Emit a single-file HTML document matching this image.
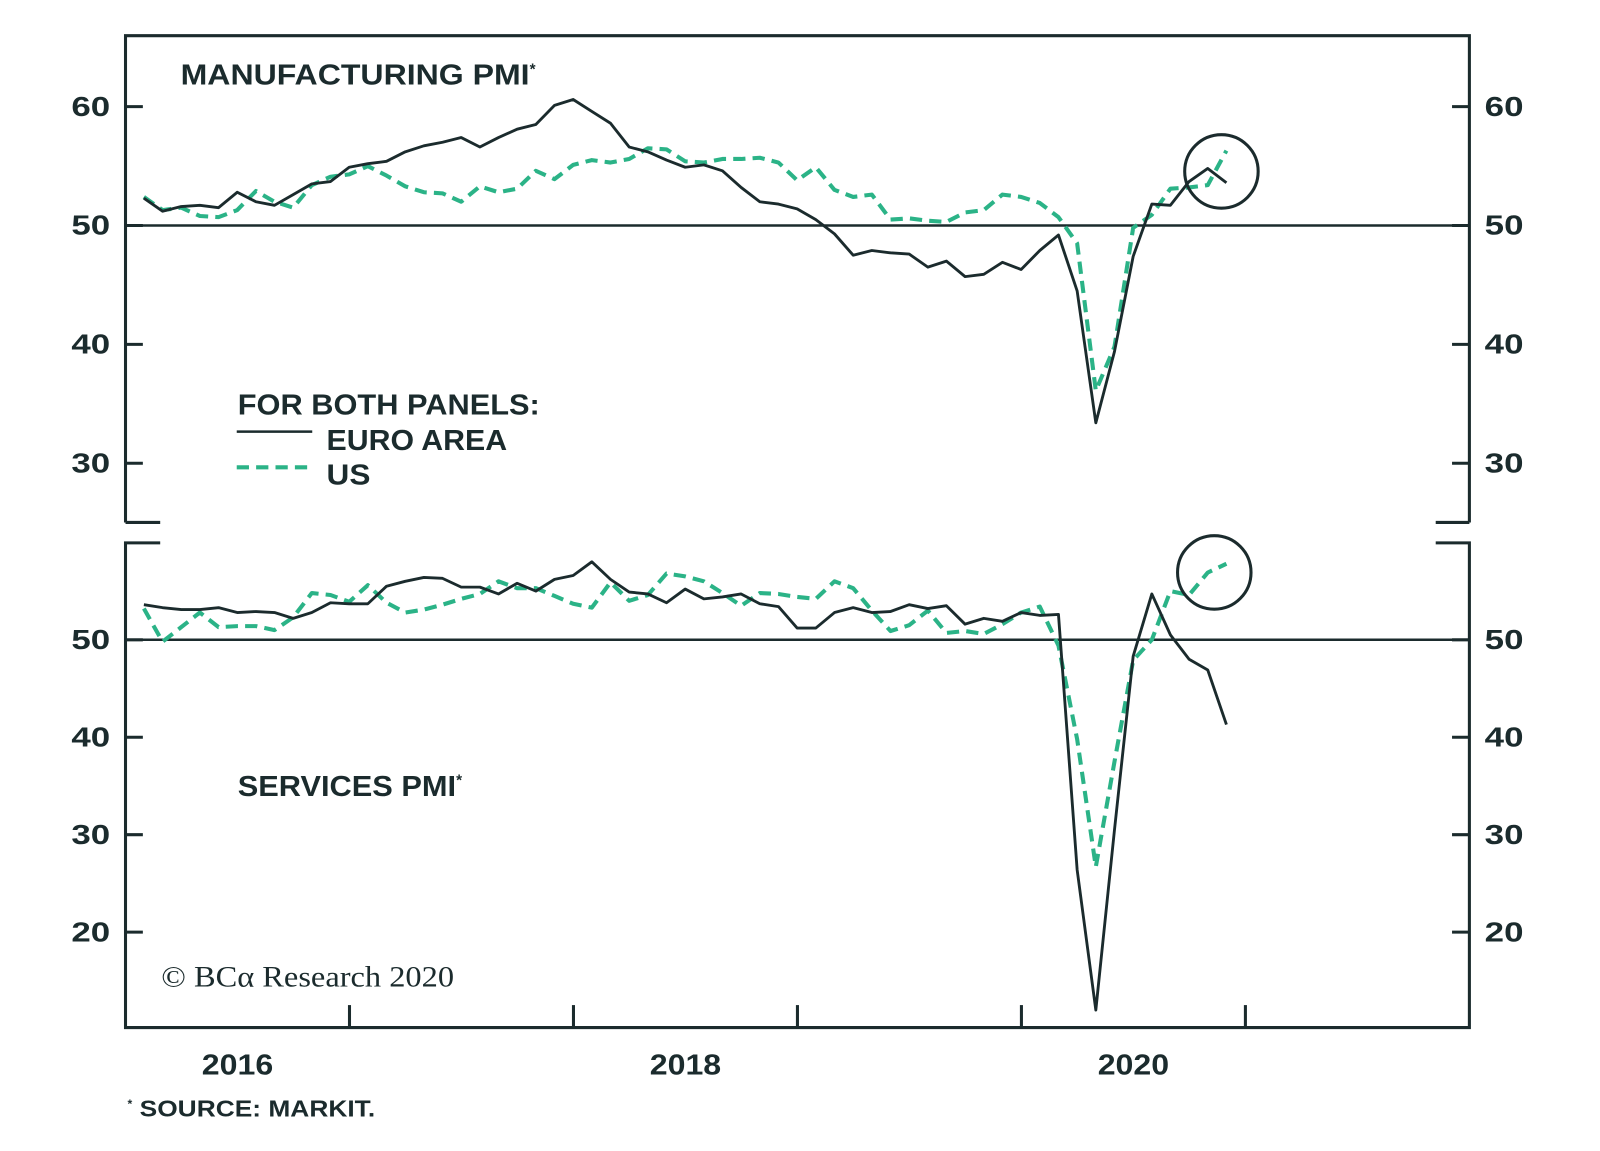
<!DOCTYPE html>
<html><head><meta charset="utf-8"><style>
html,body{margin:0;padding:0;background:#fff;}
svg{display:block;}
text{font-family:"Liberation Sans",sans-serif;fill:#1b2b2d;font-weight:bold;}
</style></head><body>
<svg id="chart" width="1600" height="1151" viewBox="0 0 1568 1128" preserveAspectRatio="none" xmlns="http://www.w3.org/2000/svg">
<g id="frame" stroke="#1b2b2d" stroke-width="3" fill="none">
  <path d="M123,512 L123,35 L1440,35 L1440,512"/>
  <path d="M123,512 L157,512 M1407,512 L1440,512"/>
  <path d="M157,532 L123,532 L123,1007 L1440,1007 L1440,532 L1407,532"/>
</g>
<text x="177" y="83" font-size="28"><tspan textLength="342" lengthAdjust="spacingAndGlyphs">MANUFACTURING PMI</tspan><tspan font-size="15" dy="-10">*</tspan></text>
<text x="233" y="780" font-size="28"><tspan textLength="214" lengthAdjust="spacingAndGlyphs">SERVICES PMI</tspan><tspan font-size="15" dy="-10">*</tspan></text>
<g>
  <text x="233" y="406" font-size="28" textLength="296" lengthAdjust="spacingAndGlyphs">FOR BOTH PANELS:</text>
  <line x1="232" y1="423" x2="306" y2="423" stroke="#1b2b2d" stroke-width="2.5"/>
  <text x="320" y="441" font-size="28" textLength="177" lengthAdjust="spacingAndGlyphs">EURO AREA</text>
  <line x1="232" y1="458" x2="302" y2="458" stroke="#2bb387" stroke-width="4" stroke-dasharray="12,7"/>
  <text x="320" y="475" font-size="28" textLength="43" lengthAdjust="spacingAndGlyphs">US</text>
</g>
<text x="158" y="967" font-size="29" textLength="287" lengthAdjust="spacingAndGlyphs" style="font-family:'Liberation Serif',serif;font-weight:normal">© BCα Research 2020</text>
<text x="125" y="1094" font-size="23"><tspan font-size="12" dy="-8">*</tspan><tspan dy="8" textLength="238" lengthAdjust="spacingAndGlyphs"> SOURCE: MARKIT.</tspan></text>
<g id="axes"></g>
<g id="marks"></g>
<circle cx="1197" cy="168" r="36" fill="none" stroke="#1b2b2d" stroke-width="3"/>
<circle cx="1190" cy="561" r="36" fill="none" stroke="#1b2b2d" stroke-width="3"/>
</svg>
<script>
const years = ["2016","2018","2020"];
const yearTicks = [2016,2017,2018,2019,2020,2021];
const mfgTicks = [60,50,40,30];
const svcTicks = [50,40,30,20];
const mfgEuro = [52.3,51.2,51.6,51.7,51.5,52.8,52.0,51.7,52.6,53.5,53.7,54.9,
55.2,55.4,56.2,56.7,57.0,57.4,56.6,57.4,58.1,58.5,60.1,60.6,
59.6,58.6,56.6,56.2,55.5,54.9,55.1,54.6,53.2,52.0,51.8,51.4,
50.5,49.3,47.5,47.9,47.7,47.6,46.5,47.0,45.7,45.9,46.9,46.3,
47.9,49.2,44.5,33.4,39.4,47.4,51.8,51.7,53.7,54.8,53.6];
const mfgUS = [52.4,51.3,51.5,50.8,50.7,51.3,52.9,52.0,51.5,53.4,54.1,54.3,
55.0,54.2,53.3,52.8,52.7,52.0,53.3,52.8,53.1,54.6,53.9,55.1,
55.5,55.3,55.6,56.5,56.4,55.4,55.3,55.6,55.6,55.7,55.3,53.8,
54.9,53.0,52.4,52.6,50.5,50.6,50.4,50.3,51.1,51.3,52.6,52.4,
51.9,50.7,48.5,36.1,39.8,49.8,50.9,53.1,53.2,53.4,56.3];
const svcEuro = [53.6,53.3,53.1,53.1,53.3,52.8,52.9,52.8,52.2,52.8,53.8,53.7,
53.7,55.5,56.0,56.4,56.3,55.4,55.4,54.7,55.8,55.0,56.2,56.6,
58.0,56.2,54.9,54.7,53.8,55.2,54.2,54.4,54.7,53.7,53.4,51.2,
51.2,52.8,53.3,52.8,52.9,53.6,53.2,53.5,51.6,52.2,51.9,52.8,
52.5,52.6,26.4,12.0,30.5,48.3,54.7,50.5,48.0,46.9,41.3];
const svcUS = [53.2,49.8,51.3,52.8,51.3,51.4,51.4,51.0,52.3,54.8,54.6,53.9,
55.6,53.8,52.8,53.1,53.6,54.2,54.7,56.0,55.3,55.3,54.5,53.7,
53.3,55.9,54.0,54.6,56.8,56.5,56.0,54.8,53.5,54.8,54.7,54.4,
54.2,56.0,55.3,53.0,50.9,51.5,53.0,50.7,50.9,50.6,51.6,52.8,
53.4,49.4,39.8,26.7,37.5,47.9,50.0,55.0,54.6,56.9,57.8];

const NS="http://www.w3.org/2000/svg";
const xLeft=123, yearW=219.5;
function xMonth(i){ return 141 + i*yearW/12; }
function xYear(y){ return xLeft + (y-2016)*yearW; }
function yMfg(v){ return 221 - (v-50)*11.65; }
function ySvc(v){ return 627 - (v-50)*9.55; }
function mk(tag, attrs, parent){ const e=document.createElementNS(NS,tag); for(const k in attrs) e.setAttribute(k,attrs[k]); parent.appendChild(e); return e; }
const axes=document.getElementById('axes'), marks=document.getElementById('marks');

function yLabel(v,x,y,name){
  const l=mk('text',{x:x,y:y+9,'font-size':27,'text-anchor':'middle',textLength:38,lengthAdjust:'spacingAndGlyphs'},axes); l.textContent=v;
  
  
}
mfgTicks.forEach(v=>{
  const y=yMfg(v);
  let t=mk('line',{x1:123,x2:140,y1:y,y2:y,stroke:'#1b2b2d','stroke-width':3},axes);
  
  
  t=mk('line',{x1:1423,x2:1440,y1:y,y2:y,stroke:'#1b2b2d','stroke-width':3},axes);
  
  
  yLabel(v,89,y,'mfg-y-label-left');
  yLabel(v,1474,y,'mfg-y-label-right');
});
svcTicks.forEach(v=>{
  const y=ySvc(v);
  let t=mk('line',{x1:123,x2:140,y1:y,y2:y,stroke:'#1b2b2d','stroke-width':3},axes);
  
  
  t=mk('line',{x1:1423,x2:1440,y1:y,y2:y,stroke:'#1b2b2d','stroke-width':3},axes);
  
  
  yLabel(v,89,y,'svc-y-label-left');
  yLabel(v,1474,y,'svc-y-label-right');
});
yearTicks.forEach(yr=>{
  const x=xYear(yr);
  if(x<130 || x>1430) return;
  const t=mk('line',{x1:x,x2:x,y1:985,y2:1007,stroke:'#1b2b2d','stroke-width':3},axes);
  
  
});
years.forEach(yr=>{
  const x=xYear(+yr)+yearW/2;
  const l=mk('text',{x:x,y:1053,'font-size':28,'text-anchor':'middle',textLength:70,lengthAdjust:'spacingAndGlyphs'},axes); l.textContent=yr;
  
  
});
let r=mk('line',{x1:123,x2:1440,y1:yMfg(50),y2:yMfg(50),stroke:'#1b2b2d','stroke-width':2.5},axes);


r=mk('line',{x1:123,x2:1440,y1:ySvc(50),y2:ySvc(50),stroke:'#1b2b2d','stroke-width':2.5},axes);



function series(arr, yf, dashed, name){
  const d=arr.map((v,i)=>(i?'L':'M')+xMonth(i).toFixed(1)+','+yf(v).toFixed(1)).join(' ');
  const p=mk('path',{d:d,fill:'none',stroke:dashed?'#2bb387':'#1b2b2d','stroke-width':dashed?4:2.8,'stroke-linejoin':'round'},marks);
  if(dashed) p.setAttribute('stroke-dasharray','12,7');
  
  
}
series(mfgUS,yMfg,true,'mfg-us-line');
series(mfgEuro,yMfg,false,'mfg-euro-line');
series(svcUS,ySvc,true,'svc-us-line');
series(svcEuro,ySvc,false,'svc-euro-line');
</script>
</body></html>
